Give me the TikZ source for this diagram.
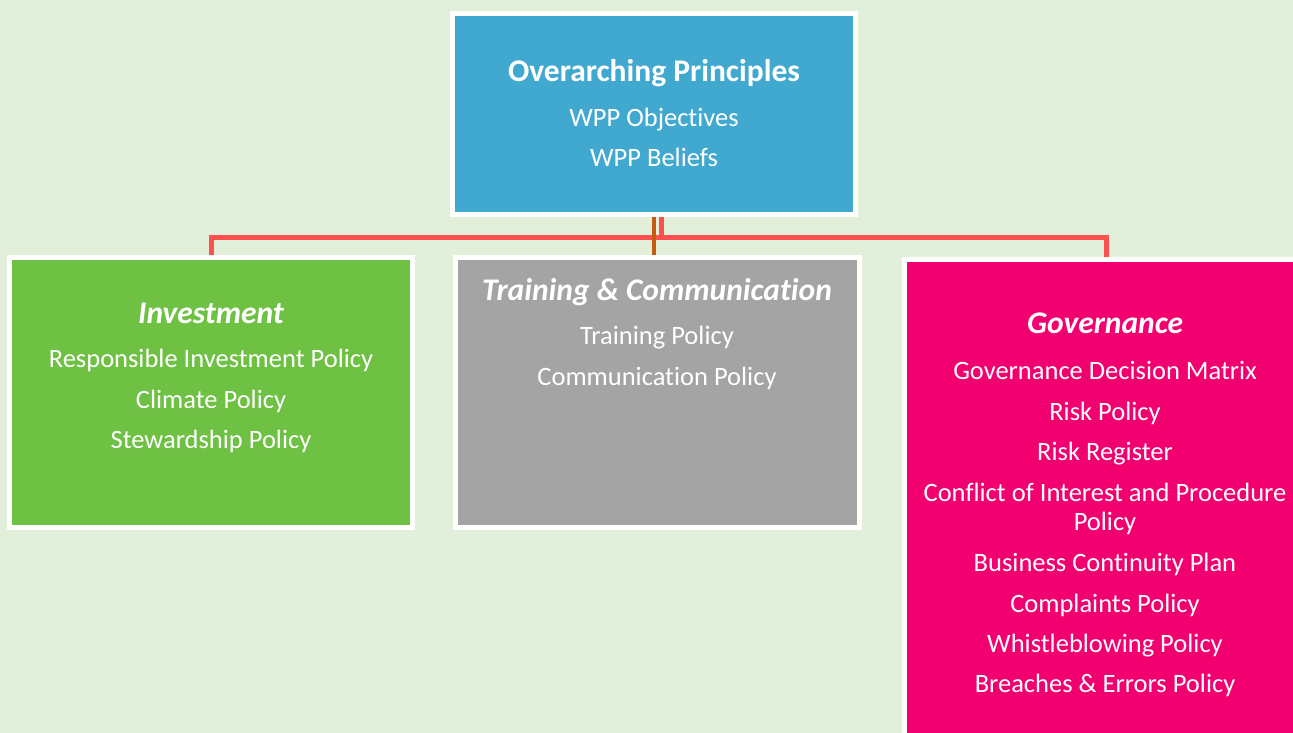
\documentclass[tikz,border=0pt]{standalone}
\usepackage{fontspec}
\setmainfont{Carlito}[Ligatures=NoCommon, RawFeature={-liga;-clig;-calt;-dlig}]
\usetikzlibrary{calc}
\definecolor{bgfill}{HTML}{E2EFDA}
\definecolor{topblue}{HTML}{41A8CF}
\definecolor{invgreen}{HTML}{6EC143}
\definecolor{trngray}{HTML}{A4A4A4}
\definecolor{govpink}{HTML}{F20070}
\definecolor{busred}{HTML}{FF5050}
\definecolor{stembrown}{HTML}{C55A11}
\tikzset{
  box/.style={draw=white, line width=5pt, minimum width=403pt, minimum height=270pt, inner sep=0pt},
  item/.style={text=white, anchor=base, inner sep=0pt, font=\fontsize{26.5}{31}\selectfont},
  head/.style={text=white, anchor=base, inner sep=0pt, font=\fontsize{31.5}{36}\selectfont\bfseries\itshape},
  bus/.style={draw=busred, line width=5pt},
  stem/.style={draw=stembrown, line width=4pt}
}
\begin{document}
\begin{tikzpicture}[x=1pt,y=-1pt]
\useasboundingbox (0,0) rectangle (1293,733);
\clip (0,0) rectangle (1293,733);
\fill[bgfill] (0,0) rectangle (1293,733);

% boxes
\node[box, fill=topblue, minimum height=201pt] (top) at (654,114) {};
\node[box, fill=invgreen] (inv) at (211,392.5) {};
\node[box, fill=trngray, minimum width=404pt] (trn) at (657.5,392.5) {};
\node[box, fill=govpink, minimum height=500pt] (gov) at (1106,509.5) {};

% connectors
\coordinate (hub) at (661,237);
\draw[bus] (inv.north) |- (hub) -| (gov.north);
\draw[bus] (top.south -| hub) -- (hub);
\draw[stem] (top.south) -- (top.south |- trn.north);

% top box
\node[head, font=\fontsize{31.5}{36}\selectfont\bfseries] (topT) at (654,82) {Overarching Principles};
\node[item] (top1) at (654,127) {WPP Objectives};
\node[item] (top2) at (654,167) {WPP Beliefs};

% investment
\node[head] (invT) at (211,323) {Investment};
\foreach \txt/\y [count=\i] in {Responsible Investment Policy/367, Climate Policy/408, Stewardship Policy/448}
  \node[item] (inv\i) at (211,\y) {\txt};

% training
\node[head] (trnT) at (657,300) {Training \& Communication};
\foreach \txt/\y [count=\i] in {Training Policy/344, Communication Policy/385}
  \node[item] (trn\i) at (657,\y) {\txt};

% governance
\node[head] (govT) at (1105,333) {Governance};
\foreach \txt/\y [count=\i] in {Governance Decision Matrix/379, Risk Policy/420, Risk Register/460,
    Conflict of Interest and Procedure/501, Policy/530, Business Continuity Plan/571,
    Complaints Policy/612, Whistleblowing Policy/652, Breaches \& Errors Policy/692}
  \node[item] (gov\i) at (1105,\y) {\txt};
\end{tikzpicture}
\end{document}
